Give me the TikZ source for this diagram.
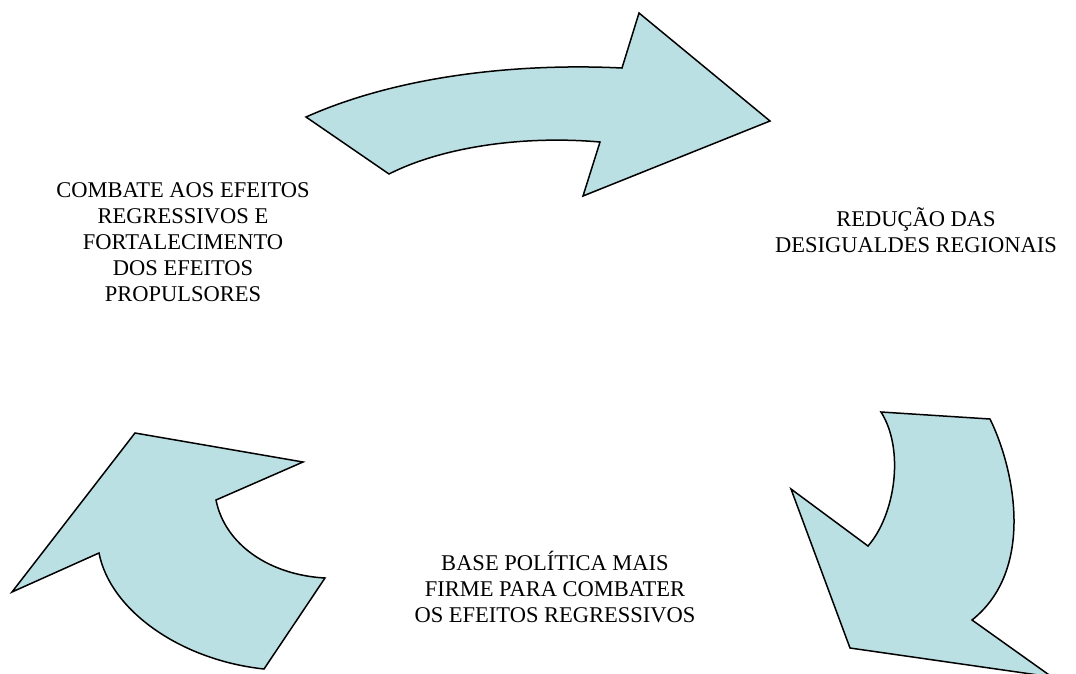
\documentclass[tikz,border=0pt]{standalone}
\usepackage{fontspec}
\setmainfont{Liberation Serif}
\begin{document}
\begin{tikzpicture}[x=1pt,y=-1pt,
  cyclearrow/.style={fill=arrowfill,draw=black,line width=1.5pt,line join=miter},
  label/.style={align=center,font=\fontsize{22.5}{26}\selectfont,inner sep=0pt}]
\definecolor{arrowfill}{RGB}{187,224,227}
\useasboundingbox (0,0) rectangle (1076,673);
\clip (0,0) rectangle (1076,673);
% top arrow
\draw[cyclearrow] (306,117) .. controls (400,75) and (520,63) .. (622,68)
  -- (639,13) -- (770,121) -- (583,196) -- (600,142)
  .. controls (520,135) and (440,148) .. (389,174) -- cycle;
% right arrow
\draw[cyclearrow] (881,412) -- (990,419)
  .. controls (1015,470) and (1035,570) .. (972,620)
  -- (1052,677) -- (850,648) -- (791,489) -- (868,546)
  .. controls (895,515) and (905,450) .. (881,412) -- cycle;
% left arrow
\draw[cyclearrow] (135,433) -- (303,462) -- (216,500)
  .. controls (225,545) and (270,575) .. (325,578)
  -- (264,669)
  .. controls (180,660) and (110,610) .. (99,553)
  -- (12,592) -- cycle;
\node[label] (combate) at (183,242) {COMBATE AOS EFEITOS\\REGRESSIVOS E\\FORTALECIMENTO\\DOS EFEITOS\\PROPULSORES};
\node[label] (reducao) at (916,230) {REDUÇÃO DAS\\DESIGUALDES REGIONAIS};
\node[label] (base) at (555,587) {BASE POLÍTICA MAIS\\FIRME PARA COMBATER\\OS EFEITOS REGRESSIVOS};
\end{tikzpicture}
\end{document}
